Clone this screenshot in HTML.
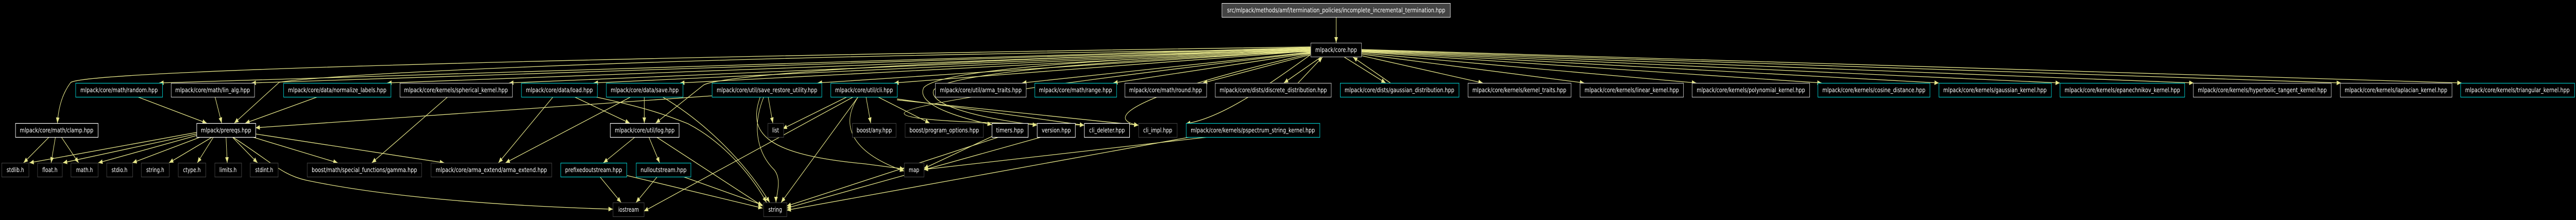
<!DOCTYPE html>
<html><head><meta charset="utf-8"><style>
html,body{margin:0;padding:0;background:#000;width:100%;height:100%;overflow:hidden;}
svg{display:block;width:100vw;height:100vh;}
text{font-family:"DejaVu Sans","Liberation Sans",sans-serif;font-size:12px;fill:#fff;}
.e{fill:none;stroke:#e6e68a;stroke-width:1.3}
</style></head><body>
<svg viewBox="0 0 6553 427" preserveAspectRatio="none" xmlns="http://www.w3.org/2000/svg">
<defs><marker id="a" markerUnits="userSpaceOnUse" markerWidth="12" markerHeight="10" refX="11" refY="4.5" orient="auto"><path d="M0,0 L11,4.5 L0,9 z" fill="#e6e68a"/></marker></defs>
<rect width="6553" height="427" fill="#000"/>
<g marker-end="url(#a)" class="e">
<path d="M3399,33 L3399,83"/>
<path d="M3334,92 L405,161"/>
<path d="M3334,93 L640,161"/>
<path d="M3334,94 L985,161"/>
<path d="M3334,95 L1295,161"/>
<path d="M3334,96 L1510,161"/>
<path d="M3334,97 L1730,161"/>
<path d="M3334,98 L2080,161"/>
<path d="M3334,99 L2275,161"/>
<path d="M3334,101 L2600,161"/>
<path d="M3334,103 L2832,161"/>
<path d="M3334,106 L3060,161"/>
<path d="M3360,111 L3266,161"/>
<path d="M3420,111 L3525,161"/>
<path d="M3537,161 L3442,111"/>
<path d="M3302,161 L3364,111"/>
<path d="M3463,108 L3772,161"/>
<path d="M3463,105 L4030,161"/>
<path d="M3463,103 L4315,161"/>
<path d="M3463,101 L4634,161"/>
<path d="M3463,100 L4932,161"/>
<path d="M3463,99 L5240,161"/>
<path d="M3463,98 L5580,161"/>
<path d="M3463,97 L5955,161"/>
<path d="M3463,96 L6262,161"/>
<path d="M3334,91 C1200,115 220,140 180,160 C155,185 148,215 146,239"/>
<path d="M3334,96 C1500,110 760,150 710,160 L596,239"/>
<path d="M3334,97 C2200,120 1820,150 1790,165 L1668,239"/>
<path d="M3334,99 C2600,120 2380,145 2350,170 C2330,200 2420,225 2523,242"/>
<path d="M3334,100 C2650,122 2400,150 2375,175 C2360,205 2500,230 2638,243"/>
<path d="M3334,102 C2800,150 2300,200 2300,220 C2300,240 2700,240 2758,243"/>
<path d="M3334,104 C2900,180 2800,230 2896,243"/>
<path d="M3334,106 C3200,180 3100,230 3017,240"/>
<path d="M350,188 L526,239"/>
<path d="M547,188 L564,239"/>
<path d="M808,188 L624,239"/>
<path d="M1811,186 L650,248"/>
<path d="M1139,188 L946,316"/>
<path d="M1407,188 L1268,316"/>
<path d="M1461,188 L1602,239"/>
<path d="M1514,188 C1650,210 1700,225 1750,240 C1850,280 1920,350 1950,393"/>
<path d="M1605,188 L1286,316"/>
<path d="M1639,188 L1639,239"/>
<path d="M1685,188 C1800,240 1900,320 1958,393"/>
<path d="M1954,188 L1966,239"/>
<path d="M1943,188 C1910,250 1930,300 1970,330 C1990,350 1974,380 1974,393"/>
<path d="M1934,188 C1900,260 1950,300 2200,318 L2300,328"/>
<path d="M2155,188 L1991,250"/>
<path d="M2183,188 L1987,393"/>
<path d="M2171,188 L1638,410"/>
<path d="M2183,188 C2130,250 2180,300 2300,332"/>
<path d="M2203,188 L2215,239"/>
<path d="M2233,188 L2365,239"/>
<path d="M2282,192 L2758,243"/>
<path d="M2282,194 L2896,243"/>
<path d="M500,257 L75,316"/>
<path d="M500,260 L160,316"/>
<path d="M500,263 L250,316"/>
<path d="M510,266 L337,316"/>
<path d="M540,266 L430,316"/>
<path d="M543,266 L502,316"/>
<path d="M575,266 L578,316"/>
<path d="M591,266 L655,316"/>
<path d="M638,265 L859,316"/>
<path d="M650,260 L1130,316"/>
<path d="M592,266 C700,320 720,340 780,350 C1000,385 1300,400 1559,406"/>
<path d="M125,266 L60,316"/>
<path d="M141,266 L130,316"/>
<path d="M156,266 L200,316"/>
<path d="M1617,265 L1535,316"/>
<path d="M1650,265 L1678,316"/>
<path d="M1668,265 L1940,400"/>
<path d="M1526,343 L1580,393"/>
<path d="M1591,340 L1940,404"/>
<path d="M1672,343 L1618,393"/>
<path d="M1738,343 L1940,398"/>
<path d="M2523,265 L2350,327"/>
<path d="M2545,265 L2001,400"/>
<path d="M2654,265 L2001,404"/>
<path d="M3035,265 L2001,408"/>
<path d="M3085,265 L2350,329"/>
</g>
<g>
<rect x="3108.5" y="6.5" width="581" height="27" fill="#444" stroke="#fff"/>
<text x="3399" y="24" text-anchor="middle" textLength="555" lengthAdjust="spacingAndGlyphs">src/mlpack/methods/amf/termination_policies/incomplete_incremental_termination.hpp</text>
<rect x="3334.5" y="83.5" width="129" height="27" fill="#000" stroke="#bfbfbf"/>
<text x="3399" y="101" text-anchor="middle" textLength="106" lengthAdjust="spacingAndGlyphs">mlpack/core.hpp</text>
</g>
<g fill="#000" stroke-width="1.2">
<rect x="192.5" y="161.5" width="221" height="27" stroke="#00c8c8"/>
<rect x="435.5" y="161.5" width="212" height="27" stroke="#bfbfbf"/>
<rect x="721.5" y="161.5" width="273" height="27" stroke="#00c8c8"/>
<rect x="1017.5" y="161.5" width="286" height="27" stroke="#bfbfbf"/>
<rect x="1326.5" y="161.5" width="193" height="27" stroke="#00c8c8"/>
<rect x="1542.5" y="161.5" width="195" height="27" stroke="#00c8c8"/>
<rect x="1811.5" y="161.5" width="279" height="27" stroke="#00c8c8"/>
<rect x="2113.5" y="161.5" width="169" height="27" stroke="#00c8c8"/>
<rect x="2379.5" y="161.5" width="231" height="27" stroke="#bfbfbf"/>
<rect x="2632.5" y="161.5" width="208" height="27" stroke="#00c8c8"/>
<rect x="2861.5" y="161.5" width="208" height="27" stroke="#bfbfbf"/>
<rect x="3091.5" y="161.5" width="295" height="27" stroke="#bfbfbf"/>
<rect x="3409.5" y="161.5" width="302" height="27" stroke="#00c8c8"/>
<rect x="3734.5" y="161.5" width="262" height="27" stroke="#bfbfbf"/>
<rect x="4019.5" y="161.5" width="263" height="27" stroke="#bfbfbf"/>
<rect x="4304.5" y="161.5" width="299" height="27" stroke="#bfbfbf"/>
<rect x="4624.5" y="161.5" width="285" height="27" stroke="#00c8c8"/>
<rect x="4932.5" y="161.5" width="286" height="27" stroke="#00c8c8"/>
<rect x="5240.5" y="161.5" width="317" height="27" stroke="#00c8c8"/>
<rect x="5579.5" y="161.5" width="351" height="27" stroke="#bfbfbf"/>
<rect x="5953.5" y="161.5" width="284" height="27" stroke="#bfbfbf"/>
<rect x="6259.5" y="161.5" width="290" height="27" stroke="#00c8c8"/>
<rect x="39.5" y="239.5" width="210" height="27" stroke="#fff"/>
<rect x="500.5" y="239.5" width="150" height="27" stroke="#fff"/>
<rect x="1552.5" y="239.5" width="175" height="27" stroke="#fff"/>
<rect x="1953.5" y="239.5" width="40" height="27" stroke="#404040"/>
<rect x="2168.5" y="239.5" width="111" height="27" stroke="#404040"/>
<rect x="2302.5" y="239.5" width="199" height="27" stroke="#404040"/>
<rect x="2523.5" y="239.5" width="92" height="27" stroke="#fff"/>
<rect x="2638.5" y="239.5" width="97" height="27" stroke="#fff"/>
<rect x="2758.5" y="239.5" width="115" height="27" stroke="#fff"/>
<rect x="2896.5" y="239.5" width="98" height="27" stroke="#404040"/>
<rect x="3017.5" y="239.5" width="340" height="27" stroke="#00c8c8"/>
<rect x="4.5" y="316.5" width="69" height="27" stroke="#404040"/>
<rect x="95.5" y="316.5" width="63" height="27" stroke="#404040"/>
<rect x="180.5" y="316.5" width="69" height="27" stroke="#404040"/>
<rect x="271.5" y="316.5" width="66" height="27" stroke="#404040"/>
<rect x="359.5" y="316.5" width="71" height="27" stroke="#404040"/>
<rect x="453.5" y="316.5" width="70" height="27" stroke="#404040"/>
<rect x="546.5" y="316.5" width="68" height="27" stroke="#404040"/>
<rect x="636.5" y="316.5" width="71" height="27" stroke="#404040"/>
<rect x="781.5" y="316.5" width="291" height="27" stroke="#404040"/>
<rect x="1096.5" y="316.5" width="307" height="27" stroke="#404040"/>
<rect x="1426.5" y="316.5" width="168" height="27" stroke="#00c8c8"/>
<rect x="1618.5" y="316.5" width="139" height="27" stroke="#00c8c8"/>
<rect x="2300.5" y="316.5" width="50" height="27" stroke="#404040"/>
<rect x="1559.5" y="393.5" width="79" height="27" stroke="#404040"/>
<rect x="1942.5" y="393.5" width="59" height="27" stroke="#404040"/>
</g>
<g text-anchor="middle">
<text x="303" y="179" textLength="197" lengthAdjust="spacingAndGlyphs">mlpack/core/math/random.hpp</text>
<text x="541" y="179" textLength="190" lengthAdjust="spacingAndGlyphs">mlpack/core/math/lin_alg.hpp</text>
<text x="858" y="179" textLength="250" lengthAdjust="spacingAndGlyphs">mlpack/core/data/normalize_labels.hpp</text>
<text x="1160" y="179" textLength="264" lengthAdjust="spacingAndGlyphs">mlpack/core/kernels/spherical_kernel.hpp</text>
<text x="1423" y="179" textLength="170" lengthAdjust="spacingAndGlyphs">mlpack/core/data/load.hpp</text>
<text x="1640" y="179" textLength="173" lengthAdjust="spacingAndGlyphs">mlpack/core/data/save.hpp</text>
<text x="1951" y="179" textLength="256" lengthAdjust="spacingAndGlyphs">mlpack/core/util/save_restore_utility.hpp</text>
<text x="2198" y="179" textLength="147" lengthAdjust="spacingAndGlyphs">mlpack/core/util/cli.hpp</text>
<text x="2495" y="179" textLength="208" lengthAdjust="spacingAndGlyphs">mlpack/core/util/arma_traits.hpp</text>
<text x="2736" y="179" textLength="186" lengthAdjust="spacingAndGlyphs">mlpack/core/math/range.hpp</text>
<text x="2965" y="179" textLength="185" lengthAdjust="spacingAndGlyphs">mlpack/core/math/round.hpp</text>
<text x="3239" y="179" textLength="273" lengthAdjust="spacingAndGlyphs">mlpack/core/dists/discrete_distribution.hpp</text>
<text x="3560" y="179" textLength="279" lengthAdjust="spacingAndGlyphs">mlpack/core/dists/gaussian_distribution.hpp</text>
<text x="3865" y="179" textLength="239" lengthAdjust="spacingAndGlyphs">mlpack/core/kernels/kernel_traits.hpp</text>
<text x="4151" y="179" textLength="240" lengthAdjust="spacingAndGlyphs">mlpack/core/kernels/linear_kernel.hpp</text>
<text x="4454" y="179" textLength="276" lengthAdjust="spacingAndGlyphs">mlpack/core/kernels/polynomial_kernel.hpp</text>
<text x="4767" y="179" textLength="262" lengthAdjust="spacingAndGlyphs">mlpack/core/kernels/cosine_distance.hpp</text>
<text x="5075" y="179" textLength="263" lengthAdjust="spacingAndGlyphs">mlpack/core/kernels/gaussian_kernel.hpp</text>
<text x="5399" y="179" textLength="294" lengthAdjust="spacingAndGlyphs">mlpack/core/kernels/epanechnikov_kernel.hpp</text>
<text x="5755" y="179" textLength="328" lengthAdjust="spacingAndGlyphs">mlpack/core/kernels/hyperbolic_tangent_kernel.hpp</text>
<text x="6095" y="179" textLength="261" lengthAdjust="spacingAndGlyphs">mlpack/core/kernels/laplacian_kernel.hpp</text>
<text x="6404" y="179" textLength="266" lengthAdjust="spacingAndGlyphs">mlpack/core/kernels/triangular_kernel.hpp</text>
<text x="144" y="257" textLength="187" lengthAdjust="spacingAndGlyphs">mlpack/core/math/clamp.hpp</text>
<text x="575" y="257" textLength="128" lengthAdjust="spacingAndGlyphs">mlpack/prereqs.hpp</text>
<text x="1640" y="257" textLength="152" lengthAdjust="spacingAndGlyphs">mlpack/core/util/log.hpp</text>
<text x="1973" y="257">list</text>
<text x="2224" y="257" textLength="90" lengthAdjust="spacingAndGlyphs">boost/any.hpp</text>
<text x="2402" y="257" textLength="177" lengthAdjust="spacingAndGlyphs">boost/program_options.hpp</text>
<text x="2569" y="257" textLength="70" lengthAdjust="spacingAndGlyphs">timers.hpp</text>
<text x="2687" y="257" textLength="74" lengthAdjust="spacingAndGlyphs">version.hpp</text>
<text x="2816" y="257" textLength="91" lengthAdjust="spacingAndGlyphs">cli_deleter.hpp</text>
<text x="2945" y="257" textLength="74" lengthAdjust="spacingAndGlyphs">cli_impl.hpp</text>
<text x="3187" y="257" textLength="316" lengthAdjust="spacingAndGlyphs">mlpack/core/kernels/pspectrum_string_kernel.hpp</text>
<text x="39" y="334">stdlib.h</text>
<text x="127" y="334">float.h</text>
<text x="215" y="334">math.h</text>
<text x="304" y="334">stdio.h</text>
<text x="395" y="334">string.h</text>
<text x="488" y="334">ctype.h</text>
<text x="580" y="334">limits.h</text>
<text x="672" y="334">stdint.h</text>
<text x="927" y="334" textLength="268" lengthAdjust="spacingAndGlyphs">boost/math/special_functions/gamma.hpp</text>
<text x="1250" y="334" textLength="283" lengthAdjust="spacingAndGlyphs">mlpack/core/arma_extend/arma_extend.hpp</text>
<text x="1510" y="334" textLength="145" lengthAdjust="spacingAndGlyphs">prefixedoutstream.hpp</text>
<text x="1688" y="334" textLength="117" lengthAdjust="spacingAndGlyphs">nulloutstream.hpp</text>
<text x="2325" y="334">map</text>
<text x="1599" y="411">iostream</text>
<text x="1972" y="411">string</text>
</g>
</svg>
</body></html>
